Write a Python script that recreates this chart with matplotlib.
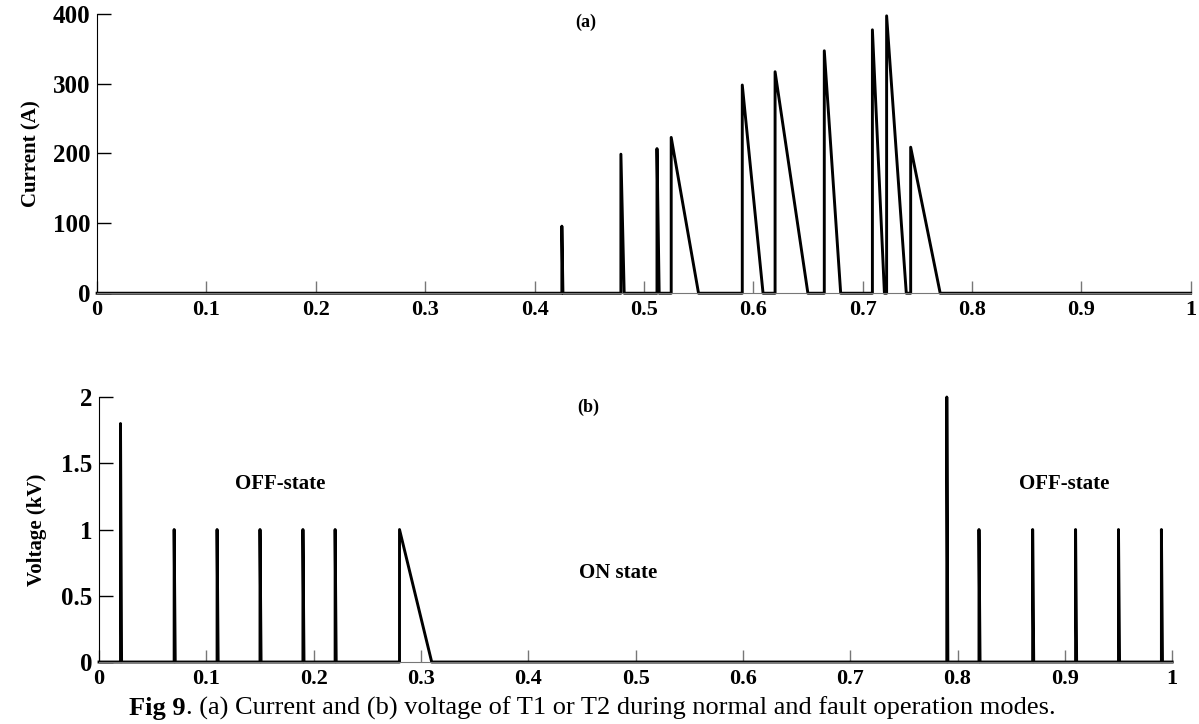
import matplotlib.pyplot as plt

plt.rcParams['font.family'] = ['Liberation Serif', 'DejaVu Serif']

# (a) current pulses: rise time, peak value, time back to zero
cur_start = [0.425, 0.479, 0.512, 0.525, 0.590, 0.620, 0.665, 0.709, 0.722, 0.744]
cur_peak = [96, 199, 207, 223, 298, 317, 347, 377, 397, 209]
cur_end = [0.426, 0.482, 0.514, 0.550, 0.609, 0.650, 0.680, 0.720, 0.740, 0.771]

# (b) voltage pulses (kV)
volt_start = [0.02, 0.07, 0.11, 0.15, 0.19, 0.22, 0.28, 0.79, 0.82, 0.87, 0.91, 0.95, 0.99]
volt_peak = [1.8, 1, 1, 1, 1, 1, 1, 2, 1, 1, 1, 1, 1]
volt_end = [0.021, 0.071, 0.111, 0.151, 0.191, 0.221, 0.31, 0.791, 0.821, 0.871, 0.911, 0.951, 0.991]

cur_ticks = [0, 100, 200, 300, 400]
volt_ticks = [0, 0.5, 1, 1.5, 2]
volt_tick_labels = ['0', '0.5', '1', '1.5', '2']
x_ticks = [0, 0.1, 0.2, 0.3, 0.4, 0.5, 0.6, 0.7, 0.8, 0.9, 1]
x_tick_labels = ['0', '0.1', '0.2', '0.3', '0.4', '0.5', '0.6', '0.7', '0.8', '0.9', '1']


def waveform(starts, peaks, ends):
    xs, ys = [0], [0]
    for s, p, e in zip(starts, peaks, ends):
        xs += [s, s, e]
        ys += [0, p, 0]
    xs.append(1)
    ys.append(0)
    return xs, ys


def style(ax):
    ax.spines['top'].set_visible(False)
    ax.spines['right'].set_visible(False)
    ax.spines['bottom'].set_color('#777777')
    ax.set_xlim(0, 1)
    ax.set_xticks(x_ticks)
    ax.set_xticklabels(x_tick_labels, fontsize=16, fontweight='bold')
    ax.tick_params(axis='x', direction='in', length=9, width=1, color='#777777', pad=5)
    ax.tick_params(axis='y', direction='in', length=10, width=1, pad=5)
    for lab in ax.get_yticklabels():
        lab.set_fontsize(18)
        lab.set_fontweight('bold')


fig = plt.figure(figsize=(11.99, 7.24), dpi=100)
ax1 = fig.add_axes([0.081, 0.595, 0.912, 0.386])
ax2 = fig.add_axes([0.0826, 0.0856, 0.895, 0.366])

x, y = waveform(cur_start, cur_peak, cur_end)
ax1.plot(x, y, color='black', lw=2.1, clip_on=False)
ax1.set_ylim(0, 400)
ax1.set_yticks(cur_ticks)
style(ax1)
ax1.set_ylabel('Current (A)', fontsize=15, fontweight='bold', labelpad=8)
ax1.text(0.447, 387, '(a)', fontsize=13, fontweight='bold', ha='center', va='center')

x, y = waveform(volt_start, volt_peak, volt_end)
ax2.plot(x, y, color='black', lw=2.1, clip_on=False)
ax2.set_ylim(0, 2)
ax2.set_yticks(volt_ticks)
ax2.set_yticklabels(volt_tick_labels)
style(ax2)
ax2.set_ylabel('Voltage (kV)', fontsize=15, fontweight='bold', labelpad=10)
ax2.text(0.456, 1.92, '(b)', fontsize=13, fontweight='bold', ha='center', va='center')
ax2.text(0.169, 1.34, 'OFF-state', fontsize=15, fontweight='bold', ha='center', va='center')
ax2.text(0.899, 1.34, 'OFF-state', fontsize=15, fontweight='bold', ha='center', va='center')
ax2.text(0.484, 0.67, 'ON state', fontsize=15, fontweight='bold', ha='center', va='center')

t1 = fig.text(0.108, 0.012, 'Fig 9', fontsize=19, fontweight='bold', ha='left', va='baseline')
ax2.annotate('. (a) Current and (b) voltage of T1 or T2 during normal and fault operation modes.',
             xy=(1, 0), xycoords=t1, fontsize=19, ha='left', va='bottom', annotation_clip=False)

fig.savefig('out.png', dpi=100)
